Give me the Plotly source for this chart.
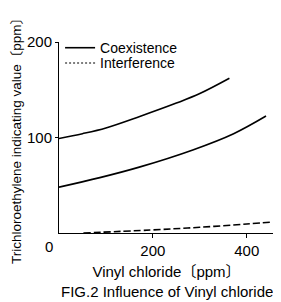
import plotly.graph_objects as go

# Data
coex_upper_x = [0, 50, 100, 172, 250, 300, 363]
coex_upper_y = [99, 104, 110, 122, 136, 146, 162]
coex_lower_x = [0, 87, 171, 285, 372, 441]
coex_lower_y = [48, 58, 69, 87, 104, 122.5]
interf_x = [52, 194, 300, 400, 456]
interf_y = [0, 3.1, 6, 9.4, 11.6]

x_ticks = [200, 400]
y_ticks = [100, 200]

FONT = "Liberation Sans, Arial, Noto Sans CJK JP, sans-serif"
FS = 15

fig = go.Figure()
fig.add_trace(go.Scatter(x=coex_upper_x, y=coex_upper_y, mode="lines", line_shape="spline",
                         line=dict(color="black", width=1.6), name="Coexistence",
                         showlegend=True, legend="legend"))
fig.add_trace(go.Scatter(x=coex_lower_x, y=coex_lower_y, mode="lines", line_shape="spline",
                         line=dict(color="black", width=1.6), name="Coexistence", showlegend=False))
fig.add_trace(go.Scatter(x=interf_x, y=interf_y, mode="lines", line_shape="spline",
                         line=dict(color="black", width=1.6, dash="7px,3px"), name="Interference",
                         showlegend=False))
fig.add_trace(go.Scatter(x=[None], y=[None], mode="lines",
                         line=dict(color="black", width=1.2, dash="2px,2px"), name="Interference",
                         legend="legend2"))

leg_common = dict(xanchor="left", yanchor="middle", bgcolor="rgba(0,0,0,0)",
                  font=dict(size=14, color="black"), itemwidth=30)

# page body has an 8px margin, so the figure is sized/offset to compensate
fig.update_layout(
    width=273, height=294,
    margin=dict(l=51, r=7, t=34, b=69),
    paper_bgcolor="white", plot_bgcolor="white",
    font=dict(family=FONT, size=FS, color="black"),
    showlegend=True,
    legend=dict(x=0.005, y=0.968, **leg_common),
    legend2=dict(x=0.005, y=0.888, **leg_common),
    xaxis=dict(range=[0, 458], showline=True, linecolor="black", linewidth=1,
               ticks="outside", ticklen=4, tickcolor="black", tickvals=x_ticks,
               showgrid=False, zeroline=False, automargin=False,
               tickfont=dict(size=FS, color="black"),
               title=dict(text="Vinyl chloride〔ppm〕", font=dict(size=FS, color="black"), standoff=8)),
    yaxis=dict(range=[0, 200], showline=True, linecolor="black", linewidth=1,
               ticks="outside", ticklen=3, tickcolor="black", tickvals=y_ticks,
               showgrid=False, zeroline=False, automargin=False,
               tickfont=dict(size=FS, color="black"),
               title=dict(text="Trichloroethylene indicating value〔ppm〕",
                          font=dict(size=13.5, color="black"), standoff=2)),
    annotations=[
        dict(text="0", xref="paper", yref="paper", x=0, y=0, xanchor="center", yanchor="middle",
             xshift=-10, yshift=-13, showarrow=False, font=dict(size=FS, color="black")),
        dict(text="FIG.2 Influence of Vinyl chloride", xref="paper", yref="paper", x=0.5, y=0,
             xanchor="center", yanchor="middle", yshift=-58, showarrow=False,
             font=dict(size=FS, color="black")),
    ],
)

fig.write_html("out.html")
